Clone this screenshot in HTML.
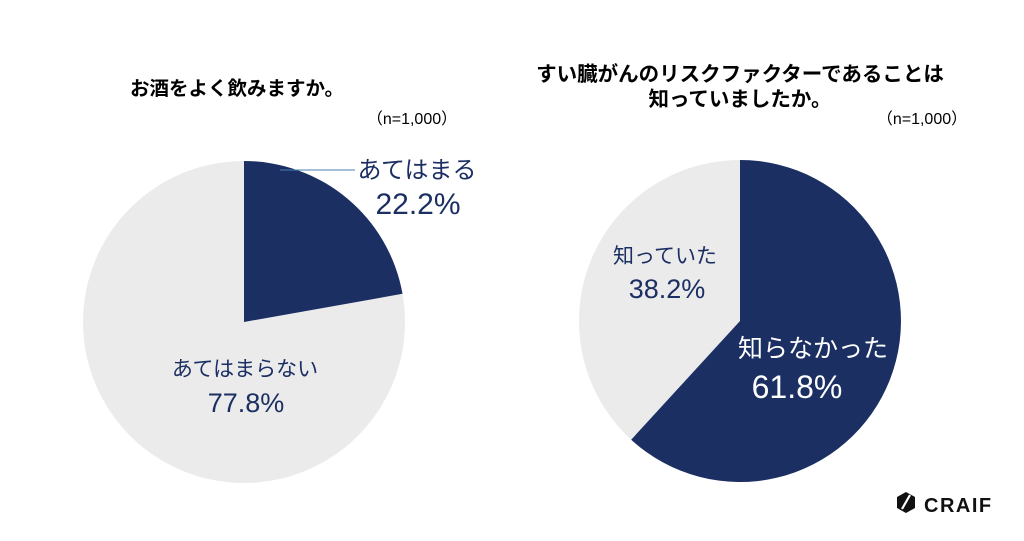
<!DOCTYPE html>
<html><head><meta charset="utf-8"><style>
body{margin:0;width:1024px;height:536px;background:#fff;overflow:hidden;font-family:"Liberation Sans","Noto Sans CJK JP",sans-serif}
</style></head><body>
<svg width="1024" height="536" xmlns="http://www.w3.org/2000/svg" font-family="Liberation Sans, Noto Sans CJK JP, sans-serif">
<circle cx="244" cy="322" r="161" fill="#ebebeb"/>
<path d="M244,322 L244,161 A161,161 0 0,1 402.5,293.8 Z" fill="#1b2f63"/>
<line x1="280" y1="170" x2="355" y2="170" stroke="#4a7fb5" stroke-width="1"/>
<circle cx="740" cy="321" r="161" fill="#ebebeb"/>
<path d="M740,321 L740,160 A161,161 0 1,1 631.2,439.7 Z" fill="#1b2f63"/>
<text x="237" y="95" font-size="19.5" font-weight="bold" text-anchor="middle" fill="#000">お酒をよく飲みますか。</text>
<text x="412" y="124" font-size="16" text-anchor="middle" fill="#000">（n=1,000）</text>
<text x="740" y="81" font-size="20.5" font-weight="bold" text-anchor="middle" fill="#000">すい臓がんのリスクファクターであることは</text>
<text x="740" y="106" font-size="20.5" font-weight="bold" text-anchor="middle" fill="#000">知っていましたか。</text>
<text x="922" y="124" font-size="16" text-anchor="middle" fill="#000">（n=1,000）</text>
<text x="417" y="178" font-size="24" text-anchor="middle" fill="#1b2f63">あてはまる</text>
<text x="418" y="214" font-size="30" text-anchor="middle" fill="#1b2f63">22.2%</text>
<text x="245" y="376" font-size="21" text-anchor="middle" fill="#1b2f63">あてはまらない</text>
<text x="246" y="412" font-size="27" text-anchor="middle" fill="#1b2f63">77.8%</text>
<text x="665" y="263" font-size="21" text-anchor="middle" fill="#1b2f63">知っていた</text>
<text x="667" y="298" font-size="27" text-anchor="middle" fill="#1b2f63">38.2%</text>
<text x="813" y="357" font-size="25" text-anchor="middle" fill="#fff">知らなかった</text>
<text x="797" y="398" font-size="32" text-anchor="middle" fill="#fff">61.8%</text>
<polygon points="897,497 906,492 915,497 915,508 906,513 897,508" fill="#111"/>
<line x1="902" y1="509" x2="910" y2="495" stroke="#fff" stroke-width="2.2"/>
<text x="924" y="512" font-size="20" font-weight="bold" fill="#111" letter-spacing="1.5">CRAIF</text>
</svg>
</body></html>
